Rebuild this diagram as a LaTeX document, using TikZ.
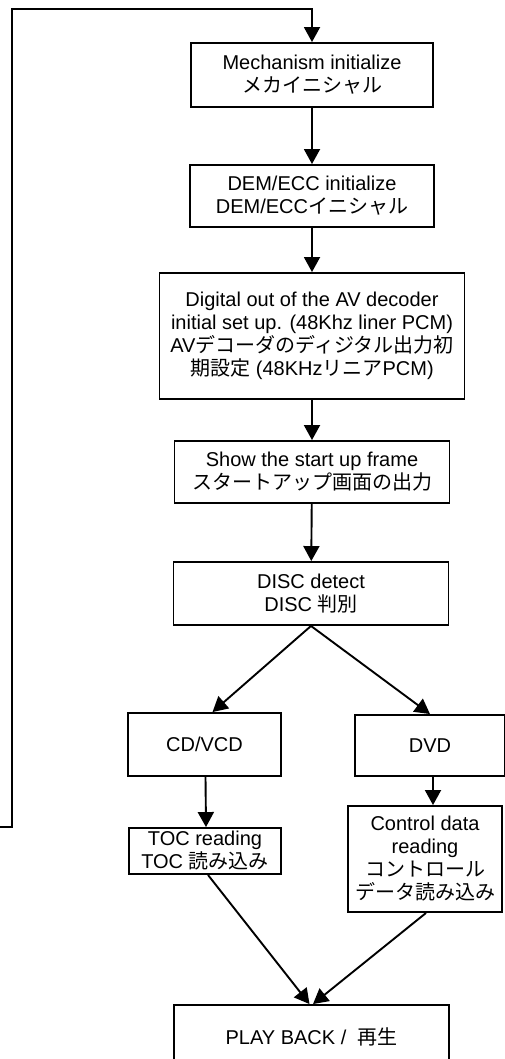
\documentclass[tikz,border=0pt]{standalone}
\usepackage{fontspec}
\setmainfont{Liberation Sans}
\newfontfamily\jp{Noto Sans CJK JP}
\usetikzlibrary{arrows.meta}

\begin{document}
\begin{tikzpicture}[
  x=1pt,
  y=-1pt,
  box/.style={draw, line width=1.9pt, align=center, inner sep=0pt, font=\fontsize{20}{23}\selectfont},
  flow/.style={line width=1.9pt, -{Triangle[length=15pt, width=16pt]}}
  ]
    \useasboundingbox (0,0) rectangle (505,1059);

    % main column
    \node[box, minimum width=242pt, minimum height=64pt] (mech) at (312,75) {Mechanism initialize\\{\jp メカイニシャル}};
    \node[box, minimum width=244pt, minimum height=62pt] (dem) at (312,196) {DEM/ECC initialize\\DEM/ECC{\jp イニシャル}};
    \node[box, minimum width=305pt, minimum height=126pt] (avout) at (312,336) {Digital out of the AV decoder\\initial set up. (48Khz liner PCM)\\AV{\jp デコーダのディジタル出力初}\\{\jp 期設定} (48KHz{\jp リニア}PCM)};
    \node[box, minimum width=275pt, minimum height=62pt] (start) at (312,472) {Show the start up frame\\{\jp スタートアップ画面の出力}};
    \node[box, minimum width=275pt, minimum height=63pt] (disc) at (311,593.5) {DISC detect\\DISC {\jp 判別}};

    % two branches
    \node[box, minimum width=153pt, minimum height=63pt] (cd) at (204.5,744.5) {CD/VCD};
    \node[box, minimum width=150pt, minimum height=61pt] (dvd) at (430,745.5) {DVD};
    \node[box, minimum width=152pt, minimum height=46pt] (toc) at (205,851) {TOC reading\\TOC {\jp 読み込み}};
    \node[box, minimum width=154pt, minimum height=106pt] (ctrl) at (425,859) {Control data\\reading\\{\jp コントロール}\\{\jp データ読み込み}};

    % end
    \node[box, minimum width=275pt, minimum height=64pt] (play) at (311.5,1037) {PLAY BACK /\ \ {\jp 再生}};

    % loop back to the top
    \coordinate (loopin) at (0,827);
    \coordinate (looptop) at (12,9);
    \draw[flow] (loopin) -| (looptop) -| (mech.north);

    \draw[flow] (mech) -- (dem);
    \draw[flow] (dem) -- (avout);
    \draw[flow] (avout) -- (start);
    \draw[flow] (start) -- (disc);

    \draw[flow] (disc.south) -- ([xshift=8pt]cd.north);
    \draw[flow] (disc.south) -- (dvd.north);
    \draw[flow] ([xshift=1pt]cd.south) -- ([xshift=1pt]toc.north);
    \draw[flow] ([xshift=3pt]dvd.south) -- ([xshift=3pt]dvd.south |- ctrl.north);

    \draw[flow] ([xshift=3pt]toc.south) -- ([xshift=-2pt]play.north);
    \draw[flow] ([xshift=1pt]ctrl.south) -- ([xshift=1.5pt]play.north);

\end{tikzpicture}
\end{document}
